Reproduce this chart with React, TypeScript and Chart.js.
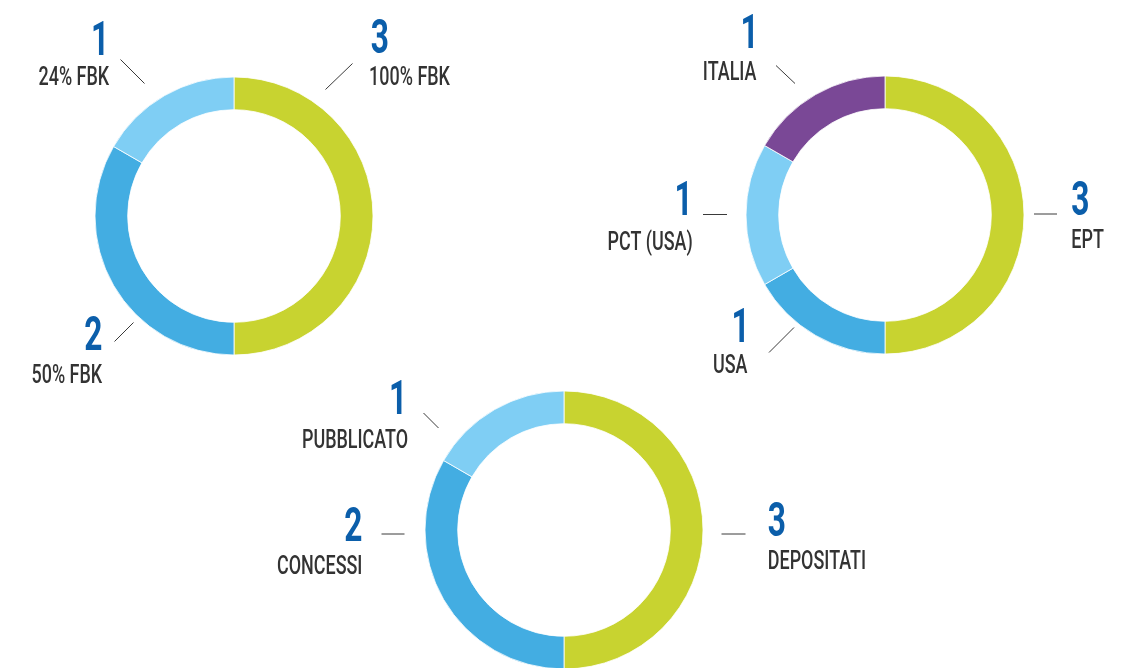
import React, { useEffect, useRef } from "react";
import { Chart, registerables } from "chart.js";

Chart.register(...registerables);

// ---------- DATA ----------
// Chart 1: share of ownership
const shareLabels = ["100% FBK", "50% FBK", "24% FBK"];
const shareValues = [3, 2, 1];
// Chart 2: territory
const territoryLabels = ["EPT", "USA", "PCT (USA)", "ITALIA"];
const territoryValues = [3, 1, 1, 1];
// Chart 3: status
const statusLabels = ["DEPOSITATI", "CONCESSI", "PUBBLICATO"];
const statusValues = [3, 2, 1];

// ---------- STYLE ----------
const GREEN = "#c8d330";
const BLUE = "#43ade2";
const LIGHT_BLUE = "#7fcef4";
const PURPLE = "#7a4896";
const NUM_COLOR = "#0b5eaa";
const TEXT_COLOR = "#333333";
const LINE_COLOR = "#3a3a3a";

const NUM_FONT = "700 48px Roboto";
const NUM_SX = 0.66;
const LABEL_FONT = "500 26px Roboto";
const LABEL_SX = 0.69;

const RADIUS = 139;
const CUTOUT = 106;
const HALF_W = 320;
const HALF_H = 240;

type Callout = {
  side: "left" | "right";
  num: [number, number];
  label: [number, number];
  line: [number, number, number, number];
};

function drawInk(
  ctx: CanvasRenderingContext2D,
  text: string,
  font: string,
  sx: number,
  color: string,
  x: number,
  top: number,
  side: "left" | "right"
) {
  ctx.save();
  ctx.font = font;
  ctx.fillStyle = color;
  ctx.textAlign = "left";
  ctx.textBaseline = "alphabetic";
  const m = ctx.measureText(text);
  const y = top + m.actualBoundingBoxAscent;
  const ox = side === "right" ? x + m.actualBoundingBoxLeft * sx : x - m.actualBoundingBoxRight * sx;
  ctx.translate(ox, y);
  ctx.scale(sx, 1);
  ctx.fillText(text, 0, 0);
  ctx.restore();
}

const calloutPlugin = {
  id: "callouts",
  afterDatasetsDraw(chart: any, _args: any, opts: any) {
    const items: Callout[] = opts && opts.items;
    if (!items) return;
    const meta = chart.getDatasetMeta(0);
    if (!meta.data.length) return;
    const cx = meta.data[0].x;
    const cy = meta.data[0].y;
    const ctx: CanvasRenderingContext2D = chart.ctx;
    const values = chart.data.datasets[0].data;
    const labels = chart.data.labels;
    items.forEach((it, i) => {
      ctx.save();
      ctx.strokeStyle = LINE_COLOR;
      ctx.lineWidth = 1;
      ctx.beginPath();
      ctx.moveTo(cx + it.line[0], cy + it.line[1]);
      ctx.lineTo(cx + it.line[2], cy + it.line[3]);
      ctx.stroke();
      ctx.restore();
      drawInk(ctx, String(values[i]), NUM_FONT, NUM_SX, NUM_COLOR, cx + it.num[0], cy + it.num[1], it.side);
      drawInk(ctx, String(labels[i]), LABEL_FONT, LABEL_SX, TEXT_COLOR, cx + it.label[0], cy + it.label[1], it.side);
    });
  },
};

type DonutProps = {
  cx: number;
  cy: number;
  labels: string[];
  values: number[];
  colors: string[];
  callouts: Callout[];
};

function Donut({ cx, cy, labels, values, colors, callouts }: DonutProps) {
  const ref = useRef<HTMLCanvasElement>(null);
  useEffect(() => {
    if (!ref.current) return;
    const padX = HALF_W - RADIUS;
    const padY = HALF_H - RADIUS;
    const chart = new Chart(ref.current, {
      type: "doughnut",
      data: {
        labels,
        datasets: [
          {
            data: values,
            backgroundColor: colors,
            borderColor: "#ffffff",
            borderWidth: 0.8,
          },
        ],
      },
      options: {
        responsive: false,
        animation: false,
        events: [],
        radius: RADIUS,
        cutout: CUTOUT,
        rotation: 0,
        layout: { padding: { left: padX, right: padX, top: padY, bottom: padY } },
        plugins: {
          legend: { display: false },
          tooltip: { enabled: false },
          title: { display: false },
          callouts: { items: callouts },
        } as any,
      },
      plugins: [calloutPlugin],
    });
    return () => chart.destroy();
  }, []);
  return (
    <canvas
      ref={ref}
      width={HALF_W * 2}
      height={HALF_H * 2}
      style={{
        position: "absolute",
        left: cx - HALF_W,
        top: cy - HALF_H,
        width: HALF_W * 2,
        height: HALF_H * 2,
      }}
    />
  );
}

const shareCallouts: Callout[] = [
  { side: "right", num: [137.5, -197.5], label: [136.5, -150.5], line: [91.5, -126.5, 118.5, -152.5] },
  { side: "left", num: [-132.5, 99.5], label: [-131.5, 147.5], line: [-119.5, 125.5, -100.5, 106.5] },
  { side: "left", num: [-130.5, -195.5], label: [-124.5, -150.5], line: [-113.5, -156.5, -89.5, -132.5] },
];

const territoryCallouts: Callout[] = [
  { side: "right", num: [187, -34.5], label: [187, 13.5], line: [149, -1, 172, -1] },
  { side: "left", num: [-141, 92.5], label: [-137, 138.5], line: [-116, 137.5, -91, 112.5] },
  { side: "left", num: [-198, -34.5], label: [-193, 13.5], line: [-182, -0.5, -158, -0.5] },
  { side: "left", num: [-132, -201.5], label: [-128, -154.5], line: [-109, -149.5, -90, -131.5] },
];

const statusCallouts: Callout[] = [
  { side: "right", num: [204.5, -28], label: [204.5, 20], line: [157.5, 4, 181.5, 4] },
  { side: "left", num: [-202.5, -23], label: [-202.5, 25], line: [-182.5, 4, -159.5, 4] },
  { side: "left", num: [-162.5, -150], label: [-156.5, -101], line: [-140.5, -117, -125.5, -102] },
];

export default function App() {
  return (
    <div
      style={{
        position: "fixed",
        left: 0,
        top: 0,
        width: 1133,
        height: 668,
        overflow: "hidden",
        background: "#ffffff",
      }}
    >
      <Donut
        cx={233.5}
        cy={215.5}
        labels={shareLabels}
        values={shareValues}
        colors={[GREEN, BLUE, LIGHT_BLUE]}
        callouts={shareCallouts}
      />
      <Donut
        cx={885}
        cy={214.5}
        labels={territoryLabels}
        values={territoryValues}
        colors={[GREEN, BLUE, LIGHT_BLUE, PURPLE]}
        callouts={territoryCallouts}
      />
      <Donut
        cx={563.5}
        cy={530}
        labels={statusLabels}
        values={statusValues}
        colors={[GREEN, BLUE, LIGHT_BLUE]}
        callouts={statusCallouts}
      />
    </div>
  );
}
